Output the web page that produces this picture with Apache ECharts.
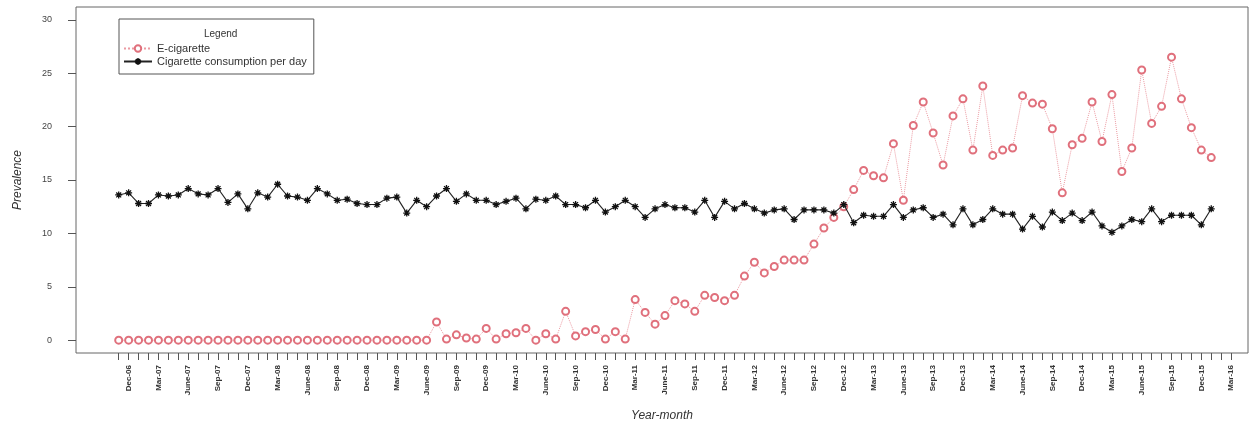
<!DOCTYPE html>
<html>
<head>
<meta charset="utf-8">
<script src="https://cdn.jsdelivr.net/npm/echarts@6/dist/echarts.min.js"></script>
<style>
  html, body { margin: 0; padding: 0; background: #fff; }
  #chart { width: 1251px; height: 427px; }
</style>
</head>
<body>
<div id="chart"></div>
<script>
// month index 0 = Nov-06, one point per month
const tickLabels = ['Dec-06', 'Mar-07', 'June-07', 'Sep-07', 'Dec-07', 'Mar-08', 'June-08', 'Sep-08',
  'Dec-08', 'Mar-09', 'June-09', 'Sep-09', 'Dec-09', 'Mar-10', 'June-10', 'Sep-10',
  'Dec-10', 'Mar-11', 'June-11', 'Sep-11', 'Dec-11', 'Mar-12', 'June-12', 'Sep-12',
  'Dec-12', 'Mar-13', 'June-13', 'Sep-13', 'Dec-13', 'Mar-14', 'June-14', 'Sep-14',
  'Dec-14', 'Mar-15', 'June-15', 'Sep-15', 'Dec-15', 'Mar-16']
const yTicks = [0, 5, 10, 15, 20, 25, 30]

const ecig = [
  0, 0, 0, 0, 0, 0, 0, 0, 0, 0, 0, 0, 0, 0, 0, 0,
  0, 0, 0, 0, 0, 0, 0, 0, 0, 0, 0, 0, 0, 0, 0, 0,
  1.7, 0.1, 0.5, 0.2, 0.1, 1.1, 0.1, 0.6, 0.7, 1.1, 0.0, 0.6, 0.1, 2.7, 0.4, 0.8,
  1.0, 0.1, 0.8, 0.1, 3.8, 2.6, 1.5, 2.3, 3.7, 3.4, 2.7, 4.2, 4.0, 3.7, 4.2, 6.0,
  7.3, 6.3, 6.9, 7.5, 7.5, 7.5, 9.0, 10.5, 11.5, 12.5, 14.1, 15.9, 15.4, 15.2, 18.4, 13.1,
  20.1, 22.3, 19.4, 16.4, 21.0, 22.6, 17.8, 23.8, 17.3, 17.8, 18.0, 22.9, 22.2, 22.1, 19.8, 13.8,
  18.3, 18.9, 22.3, 18.6, 23.0, 15.8, 18.0, 25.3, 20.3, 21.9, 26.5, 22.6, 19.9, 17.8, 17.1
]
const cigPerDay = [
  13.6, 13.8, 12.8, 12.8, 13.6, 13.5, 13.6, 14.2, 13.7, 13.6, 14.2, 12.9, 13.7, 12.3, 13.8, 13.4,
  14.6, 13.5, 13.4, 13.1, 14.2, 13.7, 13.1, 13.2, 12.8, 12.7, 12.7, 13.3, 13.4, 11.9, 13.1, 12.5,
  13.5, 14.2, 13.0, 13.7, 13.1, 13.1, 12.7, 13.0, 13.3, 12.3, 13.2, 13.1, 13.5, 12.7, 12.7, 12.4,
  13.1, 12.0, 12.5, 13.1, 12.5, 11.5, 12.3, 12.7, 12.4, 12.4, 12.0, 13.1, 11.5, 13.0, 12.3, 12.8,
  12.3, 11.9, 12.2, 12.3, 11.3, 12.2, 12.2, 12.2, 11.9, 12.7, 11.0, 11.7, 11.6, 11.6, 12.7, 11.5,
  12.2, 12.4, 11.5, 11.8, 10.8, 12.3, 10.8, 11.3, 12.3, 11.8, 11.8, 10.4, 11.6, 10.6, 12.0, 11.2,
  11.9, 11.2, 12.0, 10.7, 10.1, 10.7, 11.3, 11.1, 12.3, 11.1, 11.7, 11.7, 11.7, 10.8, 12.3
]

const labelIdx = tickLabels.map((_, k) => 1 + 3 * k)
const tickIdx = []
for (let i = 0; i <= labelIdx[labelIdx.length - 1]; i++) tickIdx.push(i)

const font = 'Liberation Sans, Arial, sans-serif'
const asterisk = 'path://M5,0L5,10M0,5L10,5M1.5,1.5L8.5,8.5M1.5,8.5L8.5,1.5'

let option = {
  animation: false,
  textStyle: { fontFamily: font },
  grid: {
    left: 76,
    right: 3,
    top: 7,
    bottom: 72,
    show: true,
    borderColor: '#666',
    borderWidth: 1,
  },
  title: {
    text: 'Legend',
    left: 199,
    top: 24,
    textStyle: { fontSize: 10, fontWeight: 'normal', color: '#333', fontFamily: font },
  },
  legend: {
    orient: 'vertical',
    left: 119,
    top: 19,
    padding: [24, 7, 7, 4],
    itemGap: 2,
    itemWidth: 28,
    itemHeight: 8,
    borderColor: '#555',
    borderWidth: 1,
    textStyle: { fontSize: 11, color: '#333', fontFamily: font },
    data: ['E-cigarette', 'Cigarette consumption per day'],
  },
  xAxis: {
    type: 'value',
    min: -4.3,
    max: 113.7,
    name: 'Year-month',
    nameLocation: 'middle',
    nameGap: 57,
    nameTextStyle: { fontStyle: 'italic', fontSize: 12, color: '#333' },
    axisLine: { show: false, onZero: false },
    splitLine: { show: false },
    axisTick: {
      show: true,
      length: 7,
      customValues: tickIdx,
      lineStyle: { color: '#555' },
    },
    axisLabel: {
      customValues: labelIdx,
      rotate: 90,
      margin: 12,
      fontSize: 8,
      fontWeight: 'bold',
      color: '#333',
      formatter: (v) => tickLabels[(v - 1) / 3] || '',
    },
  },
  yAxis: {
    type: 'value',
    min: -1.2,
    max: 31.2,
    name: 'Prevalence',
    nameLocation: 'middle',
    nameRotate: 90,
    nameGap: 52,
    nameTextStyle: { fontStyle: 'italic', fontSize: 12, color: '#333' },
    axisLine: { show: false, onZero: false },
    splitLine: { show: false },
    axisTick: {
      show: true,
      length: 8,
      customValues: yTicks,
      lineStyle: { color: '#555' },
    },
    axisLabel: {
      customValues: yTicks,
      margin: 24,
      fontSize: 9,
      color: '#444',
    },
  },
  series: [
    {
      name: 'E-cigarette',
      type: 'line',
      data: ecig.map((v, i) => [i, v]),
      symbol: 'emptyCircle',
      symbolSize: 7,
      itemStyle: { color: '#e0707c', borderWidth: 1.2 },
      lineStyle: { color: '#eb9aa2', width: 1, type: 'dotted' },
      z: 3,
    },
    {
      name: 'Cigarette consumption per day',
      type: 'line',
      data: cigPerDay.map((v, i) => [i, v]),
      symbol: asterisk,
      symbolSize: 7,
      itemStyle: { color: '#111', borderColor: '#111', borderWidth: 1.3 },
      lineStyle: { color: '#222', width: 1.1 },
      z: 4,
    },
  ],
}

var myChart = echarts.init(document.getElementById('chart'))
myChart.setOption(option)
</script>
</body>
</html>
